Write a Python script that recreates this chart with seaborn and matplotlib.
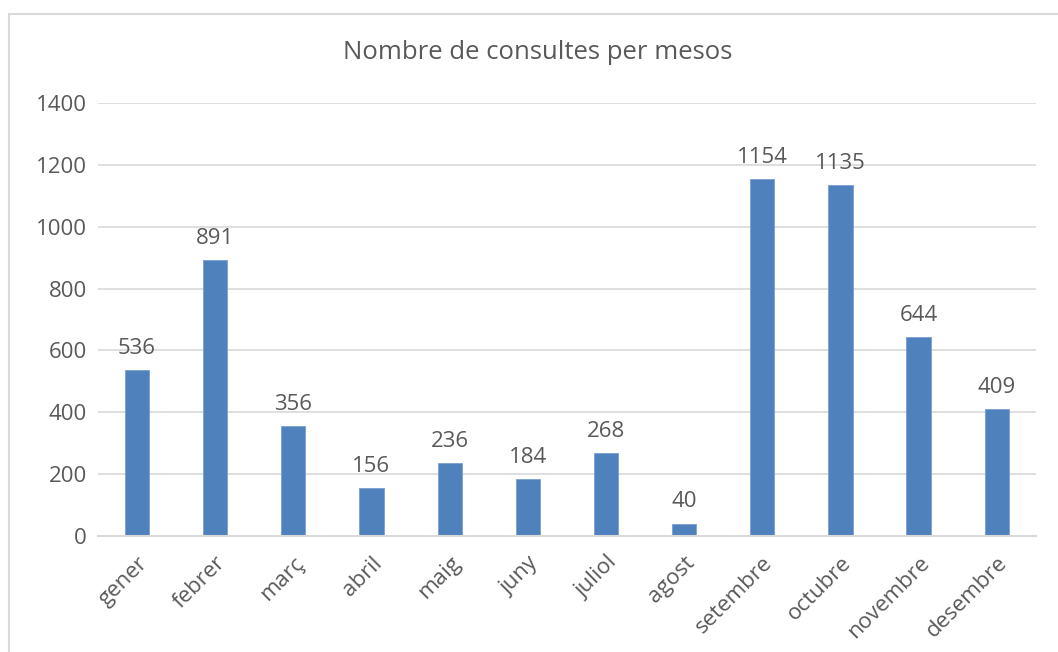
import matplotlib.pyplot as plt
import seaborn as sns
import pandas as pd
from matplotlib.patches import Rectangle

# Dades del gràfic
mesos = ['gener', 'febrer', 'març', 'abril', 'maig', 'juny', 'juliol',
         'agost', 'setembre', 'octubre', 'novembre', 'desembre']
consultes = [536, 891, 356, 156, 236, 184, 268, 40, 1154, 1135, 644, 409]

df = pd.DataFrame({'mes': mesos, 'consultes': consultes})

text_color = '#595959'
grid_color = '#D9D9D9'
bar_color = '#4F81BD'

sns.set_style('white')
plt.rcParams['font.family'] = ['Open Sans', 'DejaVu Sans']

fig = plt.figure(figsize=(10.58, 6.52), dpi=100)
ax = fig.add_axes([0.0926, 0.178, 0.8864, 0.664])

sns.barplot(data=df, x='mes', y='consultes', color=bar_color, width=0.31,
            saturation=1, edgecolor='#7A9FD0', linewidth=0.6, ax=ax)

ax.set_ylim(0, 1400)
ax.set_yticks(range(0, 1401, 200))
ax.yaxis.grid(True, color=grid_color, linewidth=1.2)
ax.set_axisbelow(True)
for s in ['top', 'right', 'left']:
    ax.spines[s].set_visible(False)
ax.spines['bottom'].set_color(grid_color)
ax.spines['bottom'].set_linewidth(1.5)

ax.set_xlabel('')
ax.set_ylabel('')
ax.tick_params(axis='both', length=0, labelsize=16, colors=text_color)
ax.tick_params(axis='y', pad=8)
ax.tick_params(axis='x', pad=12)
plt.setp(ax.get_xticklabels(), rotation=45, ha='right', rotation_mode='anchor')

for c in ax.containers:
    ax.bar_label(c, padding=8, fontsize=16, color=text_color)

fig.text(0.5085, 0.92, 'Nombre de consultes per mesos', ha='center', va='center',
         fontsize=18.5, color=text_color)

# vora del gràfic
fig.patches.append(Rectangle((9 / 1058, -0.1), 1.2, 1 - 14 / 652 + 0.1,
                             transform=fig.transFigure, fill=False,
                             edgecolor=grid_color, linewidth=1.5))

fig.savefig('out.png', dpi=100, facecolor='white')
